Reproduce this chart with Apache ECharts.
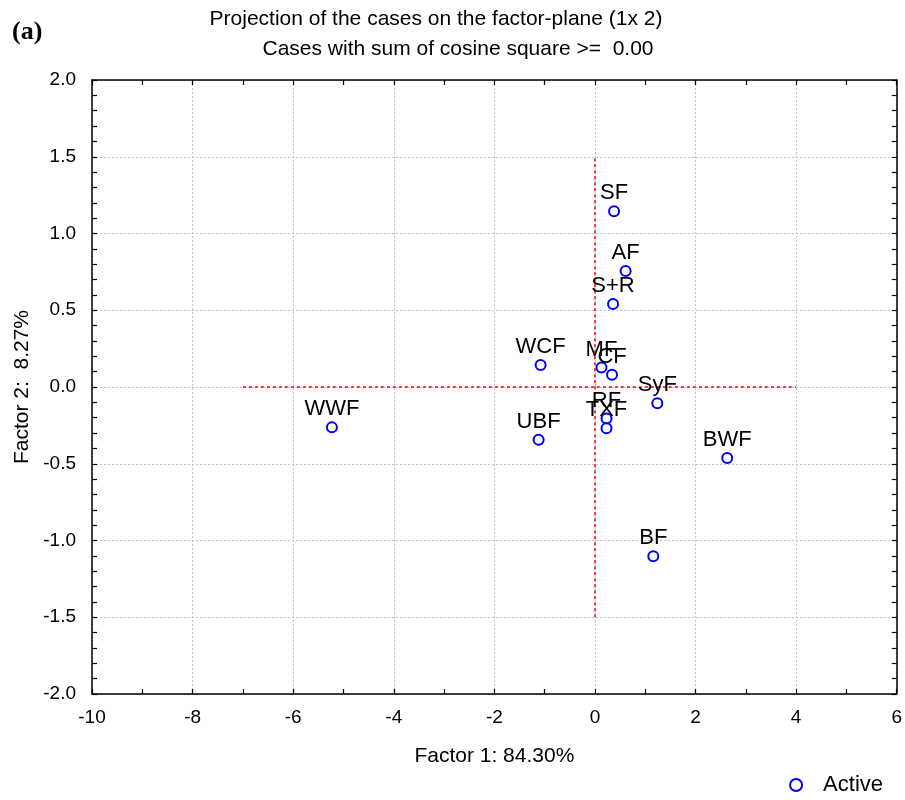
<!DOCTYPE html>
<html><head><meta charset="utf-8">
<script src="https://cdn.jsdelivr.net/npm/echarts@6/dist/echarts.min.js"></script>
<style>html,body{margin:0;padding:0;background:#fff}#c{width:905px;height:800px}</style>
</head><body><div id="c"></div>
<script>
const caseNames = ['SF','AF','S+R','WCF','MF','CF','SyF','RF','TXF','WWF','UBF','BWF','BF'];
const factor1 = [0.38,0.61,0.36,-1.08,0.13,0.34,1.24,0.23,0.23,-5.23,-1.12,2.63,1.16];
const factor2 = [1.145,0.755,0.54,0.143,0.127,0.08,-0.106,-0.205,-0.269,-0.263,-0.344,-0.462,-1.102];
const hLine = [[-7,0],[4,0]];
const vLine = [[0,-1.5],[0,1.5]];
const titleLines = ['Projection of the cases on the factor-plane (1x 2)','Cases with sum of cosine square >=  0.00'];
const xName = 'Factor 1: 84.30%';
const yName = 'Factor 2:  8.27%';

const FONT = '"Liberation Sans", Arial, sans-serif';
const chart = echarts.init(document.getElementById('c'), null, {renderer:'canvas'});
const pts = caseNames.map((n,i)=>({name:n, value:[factor1[i], factor2[i]]}));
const tickStyle = {color:'#000',width:1.2};
function ax(extra, minorSplit){
  return Object.assign({
    axisLine:{show:true,onZero:false,lineStyle:{color:'#000',width:1.5}},
    axisTick:{show:true,inside:true,length:5,lineStyle:tickStyle},
    minorTick:{show:true,splitNumber:minorSplit,length:5,lineStyle:tickStyle}
  }, extra);
}
chart.setOption({
  animation:false,
  graphic:[
    {type:'text',x:12,y:19,style:{text:'(a)',font:'bold 26px "Liberation Serif", "Times New Roman", serif',fill:'#000'}},
    {type:'text',x:436,y:9,style:{text:titleLines[0],font:'21px '+FONT,fill:'#000',textAlign:'center'}},
    {type:'text',x:458,y:39,style:{text:titleLines[1],font:'21px '+FONT,fill:'#000',textAlign:'center'}}
  ],
  grid:{left:92,right:6,top:80,bottom:106},
  legend:{right:17,bottom:-1,itemWidth:12,itemHeight:12,
    itemStyle:{opacity:1},
    textStyle:{fontFamily:FONT,fontSize:22,color:'#000',padding:[0,0,0,16]},data:['Active']},
  xAxis:[
    ax({type:'value',min:-10,max:6,interval:2,position:'bottom',
      name:xName,nameLocation:'middle',nameGap:52,
      nameTextStyle:{fontFamily:FONT,fontSize:21,color:'#000'},
      axisLabel:{fontFamily:FONT,fontSize:19,color:'#000',margin:14},
      splitLine:{show:true,lineStyle:{color:'#c4c4c4',type:[2,2],width:1}}},2),
    ax({type:'value',min:-10,max:6,interval:2,position:'top',
      axisLabel:{show:false},splitLine:{show:false}},2)
  ],
  yAxis:[
    ax({type:'value',min:-2,max:2,interval:0.5,position:'left',
      name:yName,nameLocation:'middle',nameGap:58,
      nameTextStyle:{fontFamily:FONT,fontSize:21,color:'#000'},
      axisLabel:{fontFamily:FONT,fontSize:19,color:'#000',margin:16,formatter:v=>v.toFixed(1)},
      splitLine:{show:true,lineStyle:{color:'#c4c4c4',type:[2,2],width:1}}},5),
    ax({type:'value',min:-2,max:2,interval:0.5,position:'right',
      axisLabel:{show:false},splitLine:{show:false}},5)
  ],
  series:[
    {type:'line',data:hLine,symbol:'none',silent:true,z:1,
      lineStyle:{color:'#ff0000',width:1.5,type:[3,3]}},
    {type:'line',data:vLine,symbol:'none',silent:true,z:1,
      lineStyle:{color:'#ff0000',width:1.5,type:[3,3]}},
    {type:'scatter',name:'Active',data:pts,symbol:'emptyCircle',symbolSize:10,z:3,
      itemStyle:{color:'#0000ff',borderColor:'#0000ff',borderWidth:1.7,opacity:1},
      label:{show:true,position:'top',distance:1,formatter:p=>p.name,
        fontFamily:FONT,fontSize:22,color:'#000',opacity:1},
      labelLayout:{hideOverlap:false}}
  ]
});
</script></body></html>
